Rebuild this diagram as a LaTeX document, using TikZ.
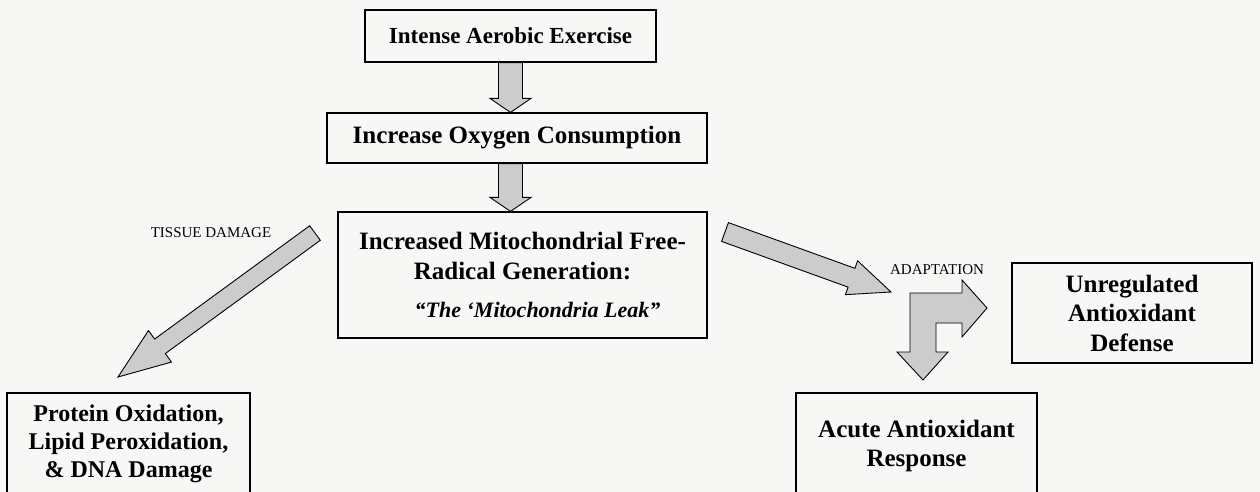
\documentclass[tikz,border=0pt]{standalone}
\usepackage{fontspec}
\setmainfont{Liberation Serif}
\usetikzlibrary{calc}
\definecolor{mgray}{RGB}{204, 204, 204}
\definecolor{mbg}{RGB}{247, 248, 246}
\tikzset{box/.style = {draw, line width = 1.2, align = center, inner sep = 0,
    font = \bfseries\fontsize{25}{29.5}\selectfont}}
\tikzset{fat/.style = {draw, fill = mgray, line width = 0.9, line join = miter}}
\tikzset{tag/.style = {inner sep = 0, font = \fontsize{15}{18}\selectfont}}
\newcommand{\fatarrow}[5]{%
  \draw [fat] ($(#1)!#3!90:(#2)$)
    -- ($(#2)!#5!(#1)!#3!90:(#2)$) -- ($(#2)!#5!(#1)!#4!90:(#2)$)
    -- (#2)
    -- ($(#2)!#5!(#1)!#4!-90:(#2)$) -- ($(#2)!#5!(#1)!#3!-90:(#2)$)
    -- ($(#1)!#3!-90:(#2)$) -- cycle;}

\begin{document}
\begin{tikzpicture}[x = 1pt, y = -1pt]
    \clip (0, 0) rectangle (1260, 492);
    \fill [mbg] (0, 0) rectangle (1260, 492);

    \node [box, minimum width = 291, minimum height = 52,
      font = \bfseries\fontsize{23}{27}\selectfont] (exercise) at (510.5, 36)
      {Intense Aerobic Exercise};
    \node [box, minimum width = 380, minimum height = 50] (oxygen) at (517, 138)
      {Increase Oxygen Consumption};
    \node [box, minimum width = 369, minimum height = 126] (mito) at (522.5, 275)
      {Increased Mitochondrial Free-\\Radical Generation:\\[9pt]
       \hspace*{30pt}{\itshape\fontsize{22}{26}\selectfont “The ‘Mitochondria Leak”}};

    \node [box, minimum width = 243, minimum height = 102,
      font = \bfseries\fontsize{24}{28}\selectfont] (damage) at (128.5, 444)
      {Protein Oxidation,\\Lipid Peroxidation,\\\& DNA Damage};
    \node [box, minimum width = 241, minimum height = 106] (acute) at (916.5, 446)
      {Acute Antioxidant\\Response};
    \node [box, minimum width = 240, minimum height = 100] (unreg) at (1132, 313)
      {Unregulated\\Antioxidant\\Defense};

    \node [tag] (tissue) at (211, 233) {TISSUE DAMAGE};
    \node [tag] (adapt) at (937, 270) {ADAPTATION};

    \fatarrow{exercise.south}{exercise.south |- oxygen.north}{12pt}{20.5pt}{14pt}
    \fatarrow{exercise.south |- oxygen.south}{exercise.south |- mito.north}{12pt}{20.5pt}{14pt}

    \coordinate (tissue tail) at (315, 233);
    \coordinate (tissue tip) at (118, 377);
    \fatarrow{tissue tail}{tissue tip}{9pt}{19.5pt}{52pt}

    \coordinate (adapt tail) at (725, 232);
    \coordinate (adapt tip) at (891, 292);
    \fatarrow{adapt tail}{adapt tip}{10pt}{18pt}{42pt}

    \coordinate (bend) at (910, 293);
    \draw [fat, shift = {(bend)}] (0, 0) -- (52, 0) -- (52, -13) -- (77, 15)
      -- (52, 44) -- (52, 30) -- (26, 30) -- (26, 59) -- (38, 59) -- (13, 87)
      -- (-13, 59) -- (0, 59) -- cycle;
\end{tikzpicture}
\end{document}
